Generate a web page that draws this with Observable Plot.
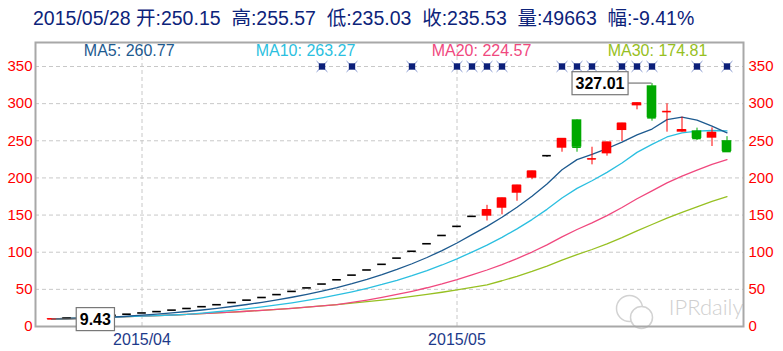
<!DOCTYPE html>
<html><head><meta charset="utf-8">
<script src="https://cdn.jsdelivr.net/npm/d3@7"></script>
<script src="https://cdn.jsdelivr.net/npm/@observablehq/plot@0.6"></script>
<style>
body{margin:0;background:#fff;font-family:"Liberation Sans",Arial,"Noto Sans CJK SC",sans-serif;}
#header{height:35px;line-height:37px;padding-left:33px;font-size:19.5px;color:#0d237a;white-space:pre;overflow:hidden;}
#chart svg{display:block;}
</style></head><body>
<div id="header"></div>
<div id="chart"></div>
<script>
// ---- data ----
const dates = [
 "2015-03-24","2015-03-25","2015-03-26","2015-03-27","2015-03-30","2015-03-31",
 "2015-04-01","2015-04-02","2015-04-03","2015-04-07","2015-04-08","2015-04-09","2015-04-10",
 "2015-04-13","2015-04-14","2015-04-15","2015-04-16","2015-04-17",
 "2015-04-20","2015-04-21","2015-04-22","2015-04-23","2015-04-24",
 "2015-04-27","2015-04-28","2015-04-29","2015-04-30",
 "2015-05-04","2015-05-05","2015-05-06","2015-05-07","2015-05-08",
 "2015-05-11","2015-05-12","2015-05-13","2015-05-14","2015-05-15",
 "2015-05-18","2015-05-19","2015-05-20","2015-05-21","2015-05-22",
 "2015-05-25","2015-05-26","2015-05-27","2015-05-28"];
const opens = [9.43,11.31,12.44,13.68,15.05,16.56,18.22,20.04,22.04,24.24,26.66,29.33,32.26,35.49,39.04,42.94,47.23,51.95,57.15,62.87,69.16,76.08,83.69,92.06,101.27,111.40,122.54,134.79,148.27,
 148.5,159.2,179.4,199.6,229.94,240.0,278.22,225.2,232.4,263.8,297.0,324.0,289.0,261.6,263.4,253.5,250.15];
const highs = [10.28,11.31,12.44,13.68,15.05,16.56,18.22,20.04,22.04,24.24,26.66,29.33,32.26,35.49,39.04,42.94,47.23,51.95,57.15,62.87,69.16,76.08,83.69,92.06,101.27,111.40,122.54,134.79,148.27,
 163.10,172.76,190.03,209.04,229.94,252.93,278.22,241.3,248.0,273.5,300.8,327.01,299.8,281.8,267.0,267.4,255.57];
const lows = [9.43,11.31,12.44,13.68,15.05,16.56,18.22,20.04,22.04,24.24,26.66,29.33,32.26,35.49,39.04,42.94,47.23,51.95,57.15,62.87,69.16,76.08,83.69,92.06,101.27,111.40,122.54,134.79,148.27,
 142.0,150.3,168.6,197.6,227.8,234.6,234.6,217.6,229.3,249.0,291.7,276.4,261.6,261.6,250.4,242.3,235.03];
const closes = [10.28,11.31,12.44,13.68,15.05,16.56,18.22,20.04,22.04,24.24,26.66,29.33,32.26,35.49,39.04,42.94,47.23,51.95,57.15,62.87,69.16,76.08,83.69,92.06,101.27,111.40,122.54,134.79,148.27,
 157.05,172.76,190.03,209.04,229.94,252.93,241.4,225.6,248.0,273.5,300.8,280.9,289.3,264.8,253.1,261.1,235.53];
const markerDates = ["2015-04-20","2015-04-22","2015-04-28","2015-05-04","2015-05-05","2015-05-06","2015-05-07",
 "2015-05-13","2015-05-14","2015-05-15","2015-05-19","2015-05-20","2015-05-21","2015-05-26","2015-05-28"];
const markerLevel = [350];
const maPeriods = [5, 10, 20, 30];
const maNames = ["MA5", "MA10", "MA20", "MA30"];
const maValues = ["260.77", "263.27", "224.57", "174.81"];
const yTicks = [0, 50, 100, 150, 200, 250, 300, 350];
const monthTicks = ["2015-04-01", "2015-05-04"];
const monthLabels = ["2015/04", "2015/05"];
const headerDate = "2015/05/28";
const headerKeys = ["开", "高", "低", "收", "量", "幅"];
const headerVals = ["250.15", "255.57", "235.03", "235.53", "49663", "-9.41%"];

// ---- styles ----
const maColors = ["#1d5a8f", "#2bbfe0", "#f0487e", "#97c022"];
const maLabelX = [128.7, 305, 481, 657];
const UP = "#ff0000", DOWN = "#00a800", FLAT = "#000000";

document.getElementById("header").textContent =
  headerDate + " " + headerKeys.map((k, i) => k + ":" + headerVals[i]).join("  ");

const data = dates.map((d, i) => ({date: d, open: opens[i], high: highs[i], low: lows[i], close: closes[i]}));
const col = d => d.close > d.open ? UP : d.close < d.open ? DOWN : FLAT;
const maxPt = data.reduce((a, b) => b.high > a.high ? b : a);
const minPt = data.reduce((a, b) => b.low < a.low ? b : a);

const W = 783, H = 316, ML = 35, MR = 40, MT = 7, MB = 25;

const plot = Plot.plot({
  width: W, height: H, marginLeft: ML, marginRight: MR, marginTop: MT, marginBottom: MB,
  style: {fontFamily: "'Liberation Sans', Arial, sans-serif", background: "transparent", overflow: "visible"},
  x: {type: "band", domain: dates, padding: 0, axis: null},
  y: {domain: [0, 382.3], axis: null},
  marks: [
    Plot.gridY(yTicks.slice(1), {stroke: "#c8c8c8", strokeOpacity: 1, strokeDasharray: "4,3"}),
    Plot.gridX(monthTicks, {stroke: "#c8c8c8", strokeOpacity: 1, strokeDasharray: "4,3"}),
    Plot.axisX(monthTicks, {tickSize: 0, tickPadding: 7, fontSize: 16, fill: "#1d3a8a", label: null,
      tickFormat: d => monthLabels[monthTicks.indexOf(d)]}),
    Plot.axisY(yTicks, {anchor: "left", tickSize: 0, tickPadding: 3, fontSize: 15, fill: "#ff0000", label: null}),
    Plot.axisY(yTicks, {anchor: "right", tickSize: 0, tickPadding: 5, fontSize: 15, fill: "#ff0000", label: null}),
    // watermark
    Plot.dot([0], {frameAnchor: "bottom-right", dx: -114, dy: -18, r: 13, fill: "white", stroke: "#d2d2d2", strokeWidth: 1.5}),
    Plot.dot([0], {frameAnchor: "bottom-right", dx: -102, dy: -9, r: 11, fill: "white", stroke: "#d2d2d2", strokeWidth: 1.5}),
    Plot.text(["IPRdaily"], {frameAnchor: "bottom-right", dx: 0, dy: -19, lineAnchor: "middle", textAnchor: "end",
      fontSize: 22, fill: "#cfcfcf", fontFamily: "Lato, 'Open Sans', sans-serif", fontWeight: 300}),
    // moving averages
    ...maPeriods.map((k, i) => Plot.lineY(data, Plot.windowY({k, anchor: "end", reduce: "mean"},
      {x: "date", y: "close", stroke: maColors[i], strokeWidth: 1.3}))).reverse(),
    // candles
    Plot.ruleX(data, {x: "date", y1: "low", y2: "high", stroke: col, strokeWidth: 1}),
    Plot.barY(data.filter(d => d.open !== d.close), {x: "date", y1: "open", y2: "close", fill: col, insetLeft: 2.7, insetRight: 2.7}),
    Plot.tickY(data, {x: "date", y: "close", stroke: col, strokeWidth: 1.6, insetLeft: 3.2, insetRight: 3.2}),
    // event markers
    Plot.dot(markerDates, {x: d => d, y: () => markerLevel[0], symbol: "times", r: 5, stroke: "#7f93cc", strokeWidth: 1}),
    Plot.dot(markerDates, {x: d => d, y: () => markerLevel[0], symbol: "square", r: 3.6, fill: "#0b1f7a"}),
    // MA legend
    ...maNames.map((n, i) => Plot.text([n + ": " + maValues[i]], {frameAnchor: "top-left", dx: maLabelX[i] - ML, dy: 8.7,
      textAnchor: "middle", lineAnchor: "middle", fontSize: 16, fill: maColors[i]})),
    Plot.frame({stroke: "#a8a8a8", strokeWidth: 2}),
    // extreme labels (boxed, 24px away from the point)
    Plot.text([maxPt], {x: "date", y: "high", text: d => d.high.toFixed(2), dx: -52, textAnchor: "middle",
      fontSize: 16, fontWeight: "bold", fill: "#000", className: "extlabel"}),
    Plot.text([minPt], {x: "date", y: "low", text: d => d.low.toFixed(2), dx: 43.3, textAnchor: "middle",
      fontSize: 16, fontWeight: "bold", fill: "#000", className: "extlabel"})
  ]
});
document.getElementById("chart").appendChild(plot);

// boxes and connectors for the extreme labels (computed from the rendered text and the scales)
const xs = plot.scale("x"), ys = plot.scale("y");
const pts = [maxPt, minPt].map((d, i) => ({px: xs.apply(d.date) + xs.bandwidth / 2, py: ys.apply(i === 0 ? d.high : d.low)}));
const svgR = plot.getBoundingClientRect();
const texts = Array.from(plot.querySelectorAll("g.extlabel text"));
const layer = d3.select(plot).insert("g", "g.extlabel");
texts.forEach((t, i) => {
  const r = t.getBoundingClientRect();
  const padX = 3.5, padY = 3;
  const bx = r.left - svgR.left - padX, by = r.top - svgR.top - padY;
  const bw = r.width + 2 * padX, bh = r.height + 2 * padY;
  const p = pts[i];
  const edge = p.px > bx ? bx + bw : bx;
  layer.append("path").attr("d", `M${edge},${p.py}H${p.px}`)
    .attr("fill", "none").attr("stroke", "#777").attr("stroke-width", 1.2);
  layer.append("rect").attr("x", bx).attr("y", by).attr("width", bw).attr("height", bh)
    .attr("fill", "white").attr("stroke", "#777").attr("stroke-width", 1.2);
});
</script>
</body></html>
